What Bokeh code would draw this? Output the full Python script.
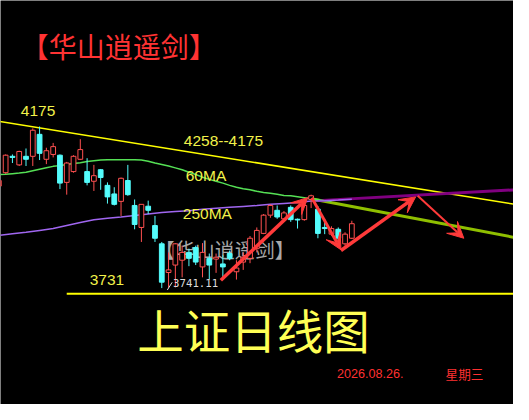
from bokeh.plotting import figure
from bokeh.models import Range1d, Label, Arrow, VeeHead, ColumnDataSource
from bokeh.embed import file_html
from bokeh.resources import INLINE

# ---------------- data ----------------
candle_idx = list(range(53))
opens = [4015, 4051, 4095, 4072, 4095, 4095, 4154, 4087, 4100, 4098,
         4025, 4054, 4087, 4054, 4028, 4059, 4017, 3994, 3974, 4030,
         3963, 3904, 3961, 3909, 3860, 3783, 3803, 3816, 3837, 3850,
         3798, 3821, 3819, 3806, 3834, 3785, 3811, 3821, 3847, 3888,
         3937, 3950, 3927, 3958, 3926, 3925, 3979, 3953, 3904, 3886,
         3899, 3860, 3875]
highs = [4036, 4100, 4100, 4110, 4116, 4170, 4175, 4118, 4131, 4100,
         4080, 4098, 4141, 4090, 4072, 4061, 4025, 4012, 4038, 4072,
         3979, 3966, 3976, 3935, 3865, 3837, 3862, 3855, 3847, 3855,
         3862, 3834, 3834, 3829, 3842, 3816, 3837, 3881, 3904, 3940,
         3966, 3963, 3948, 3963, 3928, 3968, 3992, 3961, 3927, 3907,
         3904, 3891, 3922]
lows = [4010, 4048, 4077, 4069, 4069, 4069, 4085, 4074, 4092, 4007,
        3992, 4051, 4085, 4017, 4002, 4005, 3968, 3963, 3935, 3989,
        3899, 3865, 3940, 3865, 3741.11, 3742, 3743, 3770, 3800, 3803,
        3770, 3764, 3782, 3764, 3816, 3764, 3790, 3808, 3837, 3886,
        3930, 3927, 3925, 3919, 3901, 3922, 3956, 3875, 3886, 3881,
        3862, 3855, 3873]
closes = [4030, 4098, 4092, 4108, 4087, 4165, 4103, 4110, 4121, 4023,
          4077, 4095, 4113, 4025, 4043, 4038, 3986, 3966, 4036, 3992,
          3912, 3966, 3950, 3875, 3757, 3790, 3860, 3837, 3821, 3811,
          3837, 3803, 3824, 3798, 3821, 3795, 3824, 3875, 3896, 3937,
          3963, 3932, 3943, 3925, 3924, 3963, 3989, 3888, 3901, 3901,
          3875, 3886, 3914]

ma60_x = list(range(50))
ma60 = [4046, 4047, 4048.5, 4050, 4052, 4056, 4060, 4064, 4068, 4070,
        4073, 4076, 4078, 4081, 4083, 4085, 4086, 4086, 4086, 4086,
        4086, 4085, 4082, 4077, 4073, 4069, 4064, 4059, 4052, 4046,
        4039, 4033, 4028, 4023, 4017, 4012, 4008, 4005, 4001, 3998,
        3995.5, 3993, 3990, 3989, 3986.5, 3984, 3981, 3979, 3976, 3973.5]

ma250_x = list(range(0, 53, 2))
ma250 = [3883, 3887, 3891, 3896, 3901, 3909, 3917, 3924.5, 3928.5, 3932,
         3936, 3940, 3944, 3946.5, 3949, 3953, 3955.5, 3958, 3960.5, 3963,
         3966, 3968.5, 3971, 3975, 3976, 3977.5, 3979.5]

ma60_proj_x = [46, 76]
ma60_proj = [3981, 3877]
ma250_proj_x = [47, 76]
ma250_proj = [3976, 4005]

trend_x = [0, 76]
trend_y = [4189, 3966]          # 4258--4175 line
support_x = [10, 76]
support_y = [3726, 3726]        # 3731 line

arrow_x0 = [32.7, 46.1, 50.4, 61.7]
arrow_y0 = [3762, 3984, 3842, 3989]
arrow_x1 = [45.5, 50.4, 61.4, 68.5]
arrow_y1 = [3984, 3844, 3986, 3875]
arrow_w = [3.5, 3, 3.5, 2]

title_text = "【华山逍遥剑】"
big_title = "上证日线图"
date_text = "2026.08.26."
weekday_text = "星期三"

# ---------------- figure ----------------
W, H = 513, 404
X0, X_STEP = -1.7, 7.0
P_AT_0, P_PER_PX = 4513.4, 2.583


def dx(px):
    return (px - X0) / X_STEP


def dy(py):
    return P_AT_0 - P_PER_PX * py


p = figure(width=W, height=H,
           x_range=Range1d(dx(0), dx(529)), y_range=Range1d(dy(420), dy(0)),
           output_backend="svg", toolbar_location=None,
           x_axis_location=None, y_axis_location=None,
           background_fill_color="black", border_fill_color="black",
           min_border=0)
p.grid.visible = False
p.outline_line_color = None

RED = "#ff5050"
CYAN = "#54fcfc"
YEL = "#f2f24a"

# watermark below the candles
p.add_layout(Label(x=dx(159), y=dy(259), text=title_text, text_font="Noto Sans CJK SC",
                   text_font_size="20px", text_color="#a8a8a8", text_baseline="middle",
                   level="underlay"))

# lines
p.line(trend_x, trend_y, line_color="#ffff00", line_width=1.5)
p.line(support_x, support_y, line_color="#ffff00", line_width=2)
p.line(ma60_proj_x, ma60_proj, line_color="#8fbf00", line_width=3)
p.line(ma250_proj_x, ma250_proj, line_color="#800080", line_width=3)
p.line(ma60_x, ma60, line_color="#55e055", line_width=1.5)
p.line(ma250_x, ma250, line_color="#a066f0", line_width=1.5)

# candles
up = [i for i in candle_idx if closes[i] >= opens[i]]
dn = [i for i in candle_idx if closes[i] < opens[i]]


def src(ids):
    return ColumnDataSource(dict(
        x=[candle_idx[i] for i in ids],
        h=[highs[i] for i in ids], l=[lows[i] for i in ids],
        top=[max(opens[i], closes[i]) for i in ids],
        bot=[min(opens[i], closes[i]) for i in ids]))


su, sd = src(up), src(dn)
p.segment("x", "h", "x", "l", source=su, line_color=RED, line_width=1)
p.vbar(x="x", top="top", bottom="bot", width=0.7, source=su,
       fill_color="black", line_color=RED, line_width=1)
p.segment("x", "h", "x", "l", source=sd, line_color=CYAN, line_width=1)
p.vbar(x="x", top="top", bottom="bot", width=0.7, source=sd,
       fill_color=CYAN, line_color=CYAN, line_width=1)

# arrows
for a, b, c, d, w in zip(arrow_x0, arrow_y0, arrow_x1, arrow_y1, arrow_w):
    p.add_layout(Arrow(x_start=a, y_start=b, x_end=c, y_end=d, line_color="#ff3a3a",
                       line_width=w,
                       end=VeeHead(size=16, fill_color="#ff3a3a", line_color="#ff3a3a")))

# low pointer
p.segment(x0=[dx(172)], y0=[dy(301)], x1=[dx(177)], y1=[dy(293)], line_color="#dddddd", line_width=1)


def lab(px, py, text, size, color, font="Liberation Sans"):
    p.add_layout(Label(x=dx(px), y=dy(py), text=text, text_font=font,
                       text_font_size=size, text_color=color, text_baseline="middle"))


lab(21, 47.5, title_text, "28px", "#ff3333", "Noto Sans CJK SC")
lab(21, 114.5, str(4175), "15.5px", YEL)
lab(189, 146.5, "4258--4175", "15.5px", YEL)
lab(191, 181.5, "60MA", "15.5px", YEL)
lab(188, 221.5, "250MA", "15.5px", YEL)
lab(92, 291, str(3731), "15.5px", YEL)
lab(178, 293.5, "3741.11", "10.7px", "#dcdcdc", "DejaVu Sans Mono")
lab(141, 341, big_title, "46.5px", "#ffff55", "Noto Sans CJK SC")
lab(347, 388, date_text, "12.6px", "#ff3030")
lab(459, 388, weekday_text, "12.6px", "#ff3030", "Noto Sans CJK SC")

open("out.html", "w").write(file_html(p, INLINE))
